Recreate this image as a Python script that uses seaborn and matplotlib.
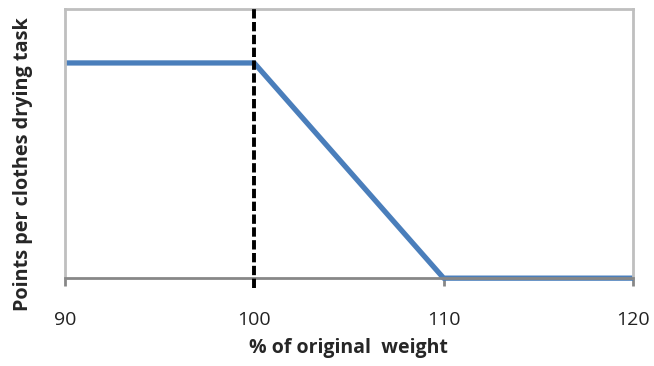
import matplotlib
matplotlib.use("Agg")
import matplotlib.pyplot as plt
import seaborn as sns
import pandas as pd

# Datos del grafico
peso = [90, 100, 110, 120]
puntos = [1.0, 1.0, 0.0, 0.0]
limite = 100
ticks_x = [90, 100, 110, 120]

datos = pd.DataFrame({"peso": peso, "puntos": puntos})

sns.set_style("white")
plt.rcParams["font.family"] = ["Open Sans", "DejaVu Sans"]

fig, ax = plt.subplots(figsize=(6.54, 3.66), dpi=100)
fig.subplots_adjust(left=0.099, right=0.968, top=0.975, bottom=0.24)

sns.lineplot(data=datos, x="peso", y="puntos", color="#4a7ebb", linewidth=3.8,
             ax=ax, clip_on=False, solid_capstyle="butt")

# Linea vertical punteada
ax.vlines(limite, -0.045, 1.25, colors="black", linestyles=(0, (2.4, 0.9)),
          linewidth=2.8, clip_on=False, zorder=5)

ax.set_xlim(90, 120)
ax.set_ylim(0, 1.25)
ax.set_xticks(ticks_x)
ax.set_yticks([])

for lado in ["top", "left", "right"]:
    ax.spines[lado].set_color("#bfbfbf")
    ax.spines[lado].set_linewidth(2)
ax.spines["bottom"].set_color("#878787")
ax.spines["bottom"].set_linewidth(2)

ax.tick_params(axis="x", bottom=True, length=6, width=2, color="#878787",
               labelsize=14, pad=18, labelcolor="#222222")

ax.set_xlabel("% of original  weight", fontsize=14, fontweight="bold")
ax.set_ylabel("Points per clothes drying task", fontsize=14.3, fontweight="bold")
ax.xaxis.set_label_coords(0.5, -0.222)
ax.yaxis.set_label_coords(-0.055, 0.424)

fig.savefig("out.png", dpi=100)
